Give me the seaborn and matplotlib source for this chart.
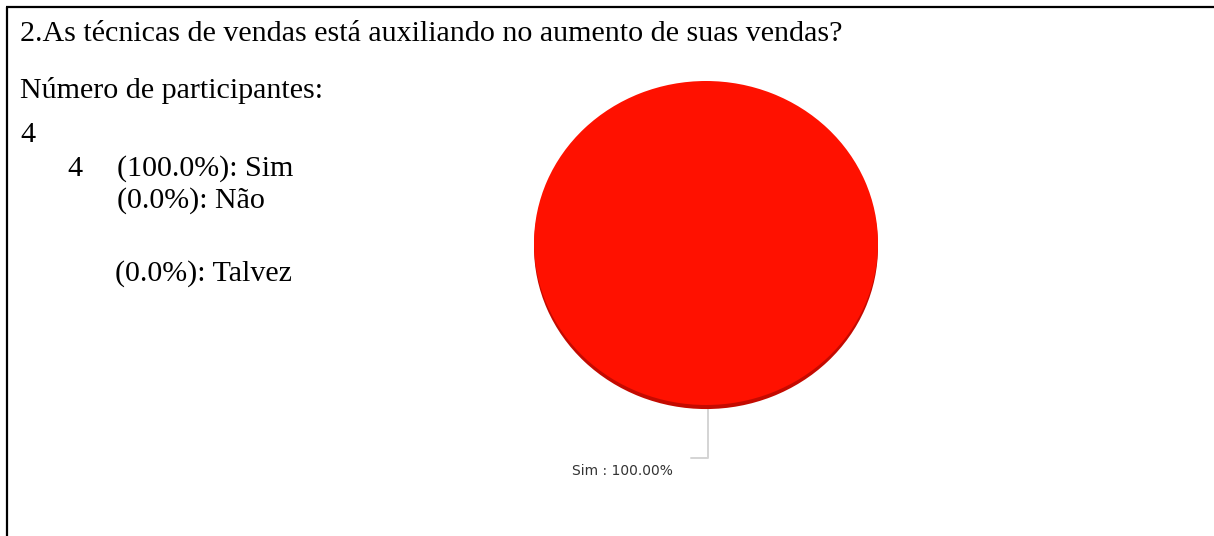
import numpy as np
import matplotlib
matplotlib.use("Agg")
import matplotlib.pyplot as plt
import seaborn as sns

# ---- data ----
categories = ["Sim", "Não", "Talvez"]
counts = [4, 0, 0]
percents = [100.0, 0.0, 0.0]
question = "2.As técnicas de vendas está auxiliando no aumento de suas vendas?"
participants_label = "Número de participantes:"
participants = 4

sns.set_theme(style="white")
plt.rcParams["font.family"] = ["Liberation Serif", "DejaVu Serif"]

W, H = 1214, 536
fig = plt.figure(figsize=(W / 100, H / 100), dpi=100)
fig.patch.set_facecolor("white")

# background axes in pixel coordinates for text and frame
bg = fig.add_axes([0, 0, 1, 1])
bg.set_xlim(0, W)
bg.set_ylim(H, 0)
bg.axis("off")

# frame (left + top)
bg.plot([7, 7], [H, 7], color="black", lw=1.6, solid_capstyle="butt")
bg.plot([6, W], [7, 7], color="black", lw=1.6, solid_capstyle="butt")

fs = 21.6
bg.text(20, 41, question, fontsize=fs, va="baseline", ha="left", color="black")
bg.text(20, 98, participants_label, fontsize=fs, va="baseline", ha="left", color="black")
bg.text(20, 142, str(participants), fontsize=fs, va="baseline", ha="left", color="black")

# list of answers
bg.text(67, 176, str(counts[0]), fontsize=fs, va="baseline", ha="left", color="black")
bg.text(117, 176, f"({percents[0]:.1f}%): {categories[0]}", fontsize=fs,
        va="baseline", ha="left", color="black")
bg.text(117, 208, f"({percents[1]:.1f}%): {categories[1]}", fontsize=fs,
        va="baseline", ha="left", color="black")
bg.text(115, 281, f"({percents[2]:.1f}%): {categories[2]}", fontsize=fs,
        va="baseline", ha="left", color="black")

# ---- pie ----
cx, cy, rx, ry = 706, 243, 172, 162
ax = fig.add_axes([(cx - rx) / W, (H - cy - ry) / H, 2 * rx / W, 2 * ry / H])
main_col = "#ff1100"
rim_col = "#c40a00"
pal = sns.color_palette([main_col, "#3366cc", "#ff9900"])
rim_pal = [rim_col, "#224488", "#cc7700"]

# darker rim underneath (3D look)
ax.pie(counts, colors=rim_pal, startangle=90, counterclock=False,
       radius=1.0, center=(0, -0.025), frame=False,
       wedgeprops=dict(linewidth=0, edgecolor="none"))
wedges, _ = ax.pie(counts, colors=pal, startangle=90, counterclock=False,
                   radius=1.0, center=(0, 0), frame=False,
                   wedgeprops=dict(linewidth=0, edgecolor="none"))
ax.set_aspect("auto")
ax.set_xlim(-1, 1)
ax.set_ylim(-1, 1)
ax.axis("off")

# leader line and label for non-zero slices
for w, cat, pct in zip(wedges, categories, percents):
    if pct <= 0:
        continue
    mid = np.deg2rad((w.theta1 + w.theta2) / 2)
    x0, y0 = np.cos(mid) * 1.0, np.sin(mid) * 1.0
    y1 = y0 - 0.33
    x2 = x0 - 0.09
    ax.plot([x0 + 0.01, x0 + 0.01, x2], [y0 - 0.02, y1, y1], color="#d4d4d4",
            lw=1.4, clip_on=False, zorder=0)
    ax.text(x0 - 0.19, y1 - 0.075, f"{cat} : {pct:.2f}%", ha="right", va="center",
            fontsize=10, color="#333333", family=["DejaVu Sans"],
            clip_on=False)

fig.savefig("out.png", dpi=100, facecolor="white")
